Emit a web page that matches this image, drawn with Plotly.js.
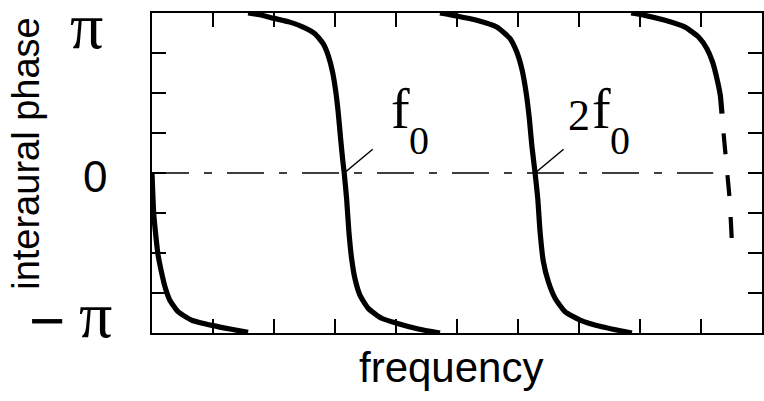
<!DOCTYPE html>
<html>
<head>
<meta charset="utf-8">
<script src="https://cdn.plot.ly/plotly-3.0.1.min.js"></script>
<style>
  html, body { margin: 0; padding: 0; background: #fff; }
  #chart { width: 764px; height: 401px; }
</style>
</head>
<body>
<div id="chart"></div>
<script>
// Frequency in tick units, interaural phase in units of pi.
const freqTicks = [0, 1, 2, 3, 4, 5, 6, 7, 8, 9, 10];
const phaseTicks = [-1, -0.75, -0.5, -0.25, 0, 0.25, 0.5, 0.75, 1];
const phaseLabelAt = [-1, 0, 1];
const phaseLabelText = ['\u2212\u03c0', '0', '\u03c0'];

// Phase branches (each wraps from +pi down to -pi)
const seg1Freq  = [0.000, 0.028, 0.056, 0.098, 0.154, 0.220, 0.290, 0.427, 0.647, 1.001, 1.303, 1.575];
const seg1Phase = [0.000, -0.253, -0.368, -0.509, -0.617, -0.721, -0.794, -0.867, -0.919, -0.954, -0.977, -0.996];

const seg2Freq  = [1.575, 1.767, 1.986, 2.260, 2.478, 2.670, 2.806, 2.888, 2.960, 3.014, 3.052, 3.092, 3.124, 3.151,
                   3.190, 3.228, 3.272, 3.326, 3.408, 3.544, 3.764, 4.010, 4.365, 4.721];
const seg2Phase = [1.000, 0.989, 0.968, 0.943, 0.912, 0.871, 0.808, 0.735, 0.631, 0.506, 0.381, 0.215, 0.091, 0.000,
                   -0.159, -0.368, -0.534, -0.659, -0.763, -0.846, -0.908, -0.939, -0.975, -1.000];

const seg3Freq  = [4.721, 4.995, 5.323, 5.651, 5.870, 5.980, 6.062, 6.132, 6.186, 6.226, 6.280,
                   6.324, 6.362, 6.416, 6.498, 6.608, 6.772, 7.018, 7.374, 7.867];
const seg3Phase = [1.000, 0.981, 0.954, 0.912, 0.840, 0.756, 0.652, 0.506, 0.340, 0.174, 0.000,
                   -0.159, -0.368, -0.555, -0.680, -0.783, -0.867, -0.919, -0.961, -1.000];

const seg4Freq  = [7.855, 8.083, 8.411, 8.739, 8.960, 9.097, 9.189, 9.261, 9.316, 9.344];
const seg4Phase = [1.000, 0.985, 0.954, 0.912, 0.850, 0.777, 0.694, 0.590, 0.486, 0.371];

// Dashed continuation past the last solid branch
const tailFreq  = [9.370, 9.433, 9.472, 9.505];
const tailPhase = [0.248, 0.000, -0.170, -0.420];

// Zero-phase reference line
const refFreq  = [0, 9.2];
const refPhase = [0, 0];

// Frequencies where branches cross zero phase (f0 and 2f0)
function zeroCrossing(fr, ph) { return fr[ph.indexOf(0)]; }
const f0 = zeroCrossing(seg2Freq, seg2Phase);
const f0x2 = zeroCrossing(seg3Freq, seg3Phase);

const solid = { color: '#000', width: 5.2, shape: 'spline', smoothing: 0.5 };
const traces = [
  { x: refFreq, y: refPhase, mode: 'lines', line: { color: '#000', width: 1.3, dash: '37px,15px,8px,15px' } },
  { x: seg1Freq, y: seg1Phase, mode: 'lines', line: solid },
  { x: seg2Freq, y: seg2Phase, mode: 'lines', line: solid },
  { x: seg3Freq, y: seg3Phase, mode: 'lines', line: solid },
  { x: seg4Freq, y: seg4Phase, mode: 'lines', line: solid },
  { x: tailFreq, y: tailPhase, mode: 'lines', line: { color: '#000', width: 4.2, dash: '21px,21px' } }
];

const serif = 'Liberation Serif, Times New Roman, serif';
const sans = 'Liberation Sans, Arial, sans-serif';

const annotations = [];
// Phase tick labels: the minus sign and the pi glyph are set as separate pieces
const piStyle = { family: serif, size: 66 };
function pushLabel(text, v, font, xshift, yshift) {
  annotations.push({
    xref: 'paper', yref: 'y', x: 0, y: v, text: text, showarrow: false,
    xanchor: 'center', yanchor: 'middle', xshift: xshift, yshift: yshift,
    font: Object.assign({ color: '#000' }, font)
  });
}
phaseLabelAt.forEach((v, i) => {
  const t = phaseLabelText[i];
  if (t === '0') {
    pushLabel(t, v, { family: sans, size: 44 }, -57, -3);
  } else if (t.charAt(0) === '\u2212') {
    pushLabel('\u2212', v, { family: sans, size: 62 }, -105, 13);
    pushLabel(t.slice(1), v, piStyle, -57, 19);
  } else {
    pushLabel(t, v, piStyle, -66, -12);
  }
});

// f0 / 2f0 labels with leader lines
function marker(fx, prefix) {
  annotations.push({ x: fx, y: 0, xref: 'x', yref: 'y', text: '', showarrow: true,
    arrowhead: 0, arrowwidth: 1.5, arrowcolor: '#000', ax: 30, ay: -25, standoff: 0 });
  let dx = 56;
  if (prefix) {
    annotations.push({ x: fx, y: 0, xref: 'x', yref: 'y', text: '2', showarrow: false,
      xanchor: 'center', yanchor: 'bottom', xshift: 44, yshift: 31,
      font: { family: serif, size: 44, color: '#000' } });
    dx = 66;
  }
  annotations.push({ x: fx, y: 0, xref: 'x', yref: 'y', text: 'f', showarrow: false,
    xanchor: 'center', yanchor: 'bottom', xshift: dx, yshift: 31,
    font: { family: serif, size: 56, color: '#000' } });
  annotations.push({ x: fx, y: 0, xref: 'x', yref: 'y', text: '0', showarrow: false,
    xanchor: 'center', yanchor: 'bottom', xshift: dx + 19, yshift: 8,
    font: { family: serif, size: 40, color: '#000' } });
}
marker(f0, false);
marker(f0x2, true);

// axis titles
annotations.push({ xref: 'paper', yref: 'paper', x: 0, y: 0.56, xshift: -126, text: 'interaural phase',
  textangle: -90, showarrow: false, xanchor: 'center', yanchor: 'middle',
  font: { family: sans, size: 38, color: '#000' } });
annotations.push({ xref: 'paper', yref: 'paper', x: 0.49, y: 0, yshift: -34, text: 'frequency',
  showarrow: false, xanchor: 'center', yanchor: 'middle',
  font: { family: sans, size: 42, color: '#000' } });

const axisCommon = {
  showline: true, linecolor: '#000', linewidth: 2, mirror: 'ticks',
  ticks: 'inside', ticklen: 14, tickwidth: 1.5, tickcolor: '#000',
  showgrid: false, zeroline: false, showticklabels: false, fixedrange: true
};

const layout = {
  width: 764, height: 401,
  margin: { l: 152, r: 2, t: 13, b: 68, pad: 0 },
  paper_bgcolor: '#fff', plot_bgcolor: '#fff',
  showlegend: false,
  xaxis: Object.assign({}, axisCommon, { range: [0, 10], tickmode: 'array', tickvals: freqTicks }),
  yaxis: Object.assign({}, axisCommon, { range: [-1, 1], tickmode: 'array', tickvals: phaseTicks }),
  annotations: annotations
};

Plotly.newPlot('chart', traces, layout, { staticPlot: true, displayModeBar: false });
</script>
</body>
</html>
